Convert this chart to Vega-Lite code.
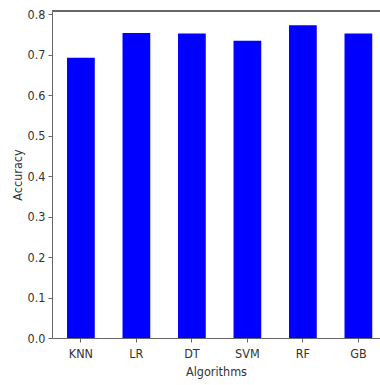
{
  "$schema": "https://vega.github.io/schema/vega-lite/v6.json",
  "width": 328,
  "height": 327,
  "autosize": {"type": "none"},
  "padding": {"left": 52, "top": 11, "right": 0, "bottom": 47},
  "background": "white",
  "config": {
    "view": {"stroke": null},
    "font": "DejaVu Sans Condensed, DejaVu Sans",
    "axis": {
      "labelFont": "DejaVu Sans Condensed, DejaVu Sans",
      "titleFont": "DejaVu Sans Condensed, DejaVu Sans",
      "labelFontSize": 12.5,
      "titleFontSize": 12.5,
      "titleFontWeight": "normal",
      "labelColor": "#333333",
      "titleColor": "#333333",
      "domainColor": "#666666",
      "tickColor": "#666666",
      "tickSize": 4,
      "grid": false
    }
  },
  "data": {
    "values": [
      {"algorithm": "KNN", "accuracy": 0.693},
      {"algorithm": "LR", "accuracy": 0.754},
      {"algorithm": "DT", "accuracy": 0.753},
      {"algorithm": "SVM", "accuracy": 0.735},
      {"algorithm": "RF", "accuracy": 0.773},
      {"algorithm": "GB", "accuracy": 0.753}
    ]
  },
  "layer": [
    {
      "mark": {"type": "bar", "color": "#0000ff"},
      "encoding": {
        "x": {
          "field": "algorithm",
          "type": "nominal",
          "sort": null,
          "title": "Algorithms",
          "scale": {"paddingInner": 0.5, "paddingOuter": 0.205, "align": 0.66},
          "axis": {"labelAngle": 0, "labelPadding": 5, "titlePadding": 6}
        },
        "y": {
          "field": "accuracy",
          "type": "quantitative",
          "title": "Accuracy",
          "scale": {"domain": [0, 0.8085], "nice": false},
          "axis": {"values": [0, 0.1, 0.2, 0.3, 0.4, 0.5, 0.6, 0.7, 0.8], "format": ".1f", "labelPadding": 3, "titlePadding": 3}
        }
      }
    },
    {
      "mark": {"type": "rule", "color": "#666666"},
      "encoding": {"y": {"datum": 0.8085}}
    }
  ]
}
